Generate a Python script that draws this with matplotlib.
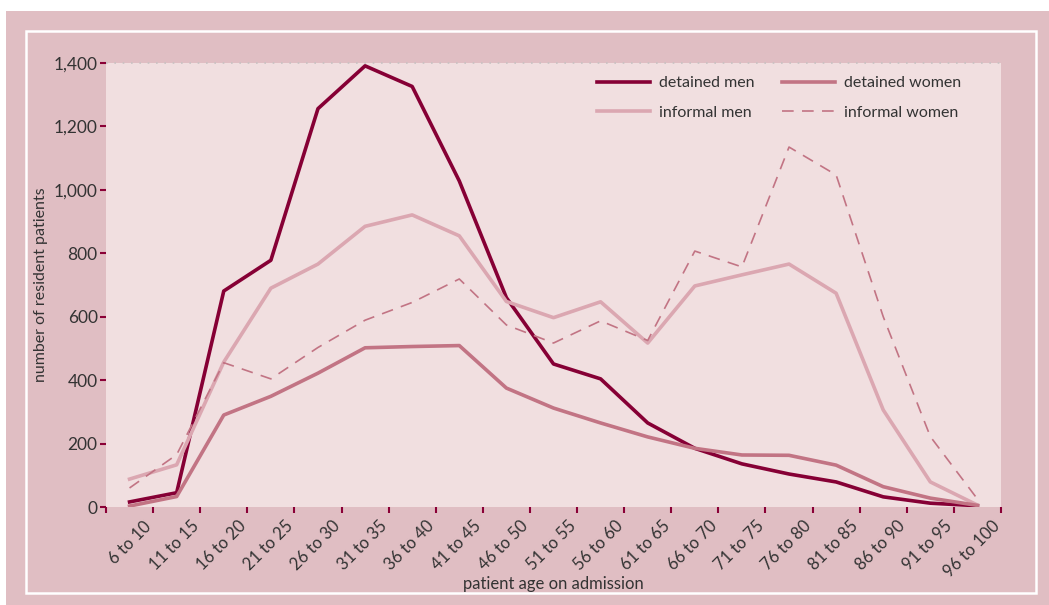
import numpy as np
import matplotlib.pyplot as plt
from matplotlib.patches import Rectangle
from matplotlib.ticker import FuncFormatter
import matplotlib.transforms as mtransforms

plt.rcParams["font.family"] = ["Lato", "DejaVu Sans"]

age_groups = ["6 to 10", "11 to 15", "16 to 20", "21 to 25", "26 to 30", "31 to 35",
              "36 to 40", "41 to 45", "46 to 50", "51 to 55", "56 to 60", "61 to 65",
              "66 to 70", "71 to 75", "76 to 80", "81 to 85", "86 to 90", "91 to 95",
              "96 to 100"]

detained_men = [16, 45, 681, 778, 1256, 1391, 1326, 1028, 660, 451, 404, 265,
                185, 136, 104, 79, 32, 12, 4]
detained_women = [3, 33, 290, 349, 422, 502, 506, 509, 375, 312, 265, 221,
                  185, 164, 163, 132, 64, 28, 5]
informal_men = [88, 133, 457, 690, 766, 885, 921, 855, 648, 597, 647, 517,
                697, 732, 766, 674, 306, 79, 6]
informal_women = [60, 165, 455, 404, 503, 589, 645, 719, 574, 517, 587, 525,
                  807, 757, 1135, 1047, 600, 222, 25]

outer_bg = "#e0bec3"
plot_bg = "#f1dfe0"
tick_red = "#8a0036"
text_col = "#333333"

fig = plt.figure(figsize=(10.49, 6.05), dpi=100)
fig.patch.set_facecolor("white")

W, H = 1049, 605
fig.patches.append(Rectangle((6 / W, 0), 1 - 6 / W, 1 - 11 / H,
                             transform=fig.transFigure, facecolor=outer_bg,
                             edgecolor="none", zorder=-10))
fig.patches.append(Rectangle((26 / W, 1 - 593 / H), (1036 - 26) / W, (593 - 31) / H,
                             transform=fig.transFigure, facecolor="none",
                             edgecolor="white", linewidth=1.8, zorder=-9))

ax = fig.add_axes([106 / W, 1 - 507 / H, (1001 - 106) / W, (507 - 63) / H])
ax.set_facecolor(plot_bg)
for s in ax.spines.values():
    s.set_visible(False)

x = np.arange(len(age_groups)) + 0.5

ax.plot(x, detained_men, color="#860035", lw=2.6, label="detained men")
ax.plot(x, informal_men, color="#dba7b1", lw=2.6, label="informal men")
ax.plot(x, detained_women, color="#c27484", lw=2.6, label="detained women")
ax.plot(x, informal_women, color="#c27484", lw=1.2, ls=(0, (7, 5)),
        label="informal women")

ax.set_xlim(0, len(age_groups))
ax.set_ylim(0, 1400)
ax.axhline(1400, color="#c9c2c2", lw=1.2, ls=(0, (1, 4)), clip_on=False)

ax.set_yticks(range(0, 1401, 200))
ax.yaxis.set_major_formatter(FuncFormatter(lambda v, p: f"{int(v):,}"))
ax.tick_params(axis="y", length=4, width=1.5, color=tick_red, labelsize=12.5,
               labelcolor=text_col, pad=2)

ax.set_xticks(x)
ax.set_xticklabels(age_groups, rotation=45, ha="right", va="top",
                   rotation_mode="anchor")
ax.set_xticks(np.arange(len(age_groups) + 1), minor=True)
ax.tick_params(axis="x", which="major", length=0, labelsize=12,
               labelcolor=text_col, pad=8)
ax.tick_params(axis="x", which="minor", length=4, width=1.5, color=tick_red)
offset = mtransforms.ScaledTranslation(14 / 100, 0, fig.dpi_scale_trans)
for lab in ax.get_xticklabels():
    lab.set_transform(lab.get_transform() + offset)

ax.set_ylabel("number of resident patients", fontsize=11.5, color=text_col,
              labelpad=4)
ax.set_xlabel("patient age on admission", fontsize=12, color=text_col,
              labelpad=-3)

handles, labels = ax.get_legend_handles_labels()
leg = ax.legend(handles, labels, ncol=2, frameon=False, loc="upper left",
                bbox_to_anchor=((597 - 106) / 895, (507 - 76) / 444),
                borderaxespad=0, borderpad=0, fontsize=11.5, handlelength=3.3,
                columnspacing=1.7, handletextpad=0.6, labelspacing=0.95)
for t in leg.get_texts():
    t.set_color(text_col)

fig.savefig("out.png", dpi=100, facecolor=fig.get_facecolor())
